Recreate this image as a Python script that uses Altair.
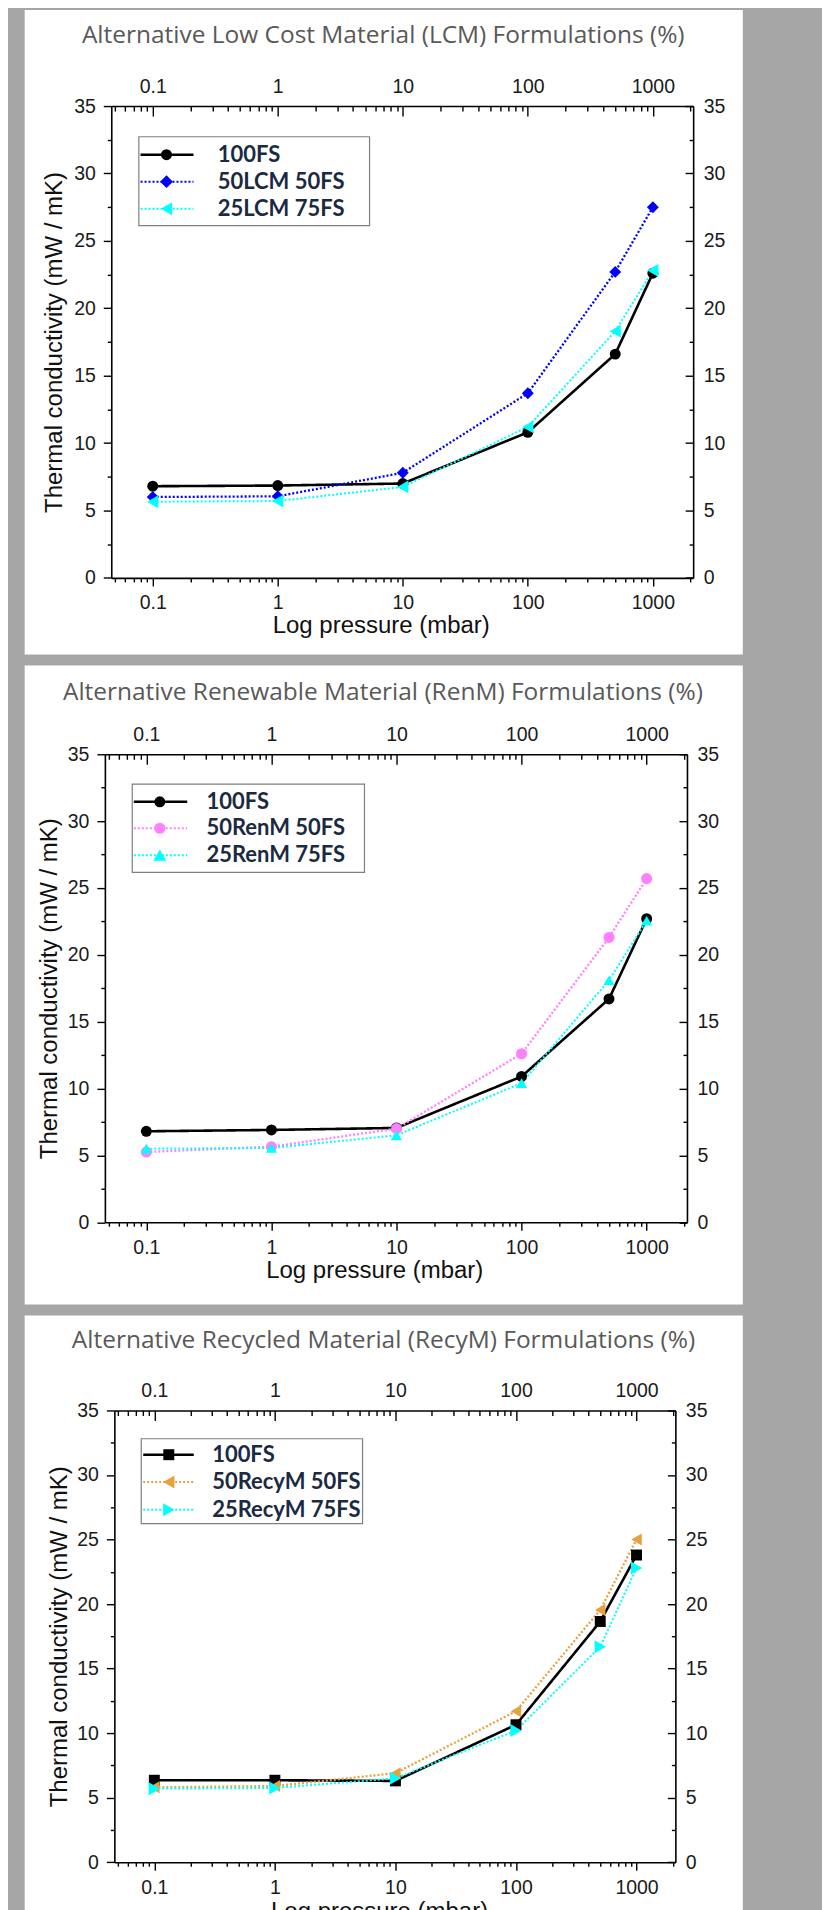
import altair as alt
import pandas as pd

# ---------------- data ----------------
PRESSURE = [0.1, 1, 10, 100, 500, 1000]

LCM_SERIES = ["100FS", "50LCM 50FS", "25LCM 75FS"]
LCM_100FS = [6.8, 6.85, 7.0, 10.8, 16.6, 22.6]
LCM_50 = [6.0, 6.05, 7.8, 13.7, 22.7, 27.5]
LCM_25 = [5.65, 5.7, 6.75, 11.2, 18.3, 22.8]

REN_SERIES = ["100FS", "50RenM 50FS", "25RenM 75FS"]
REN_100FS = [6.8, 6.9, 7.05, 10.9, 16.7, 22.7]
REN_50 = [5.25, 5.65, 7.0, 12.6, 21.3, 25.7]
REN_25 = [5.5, 5.55, 6.5, 10.4, 18.1, 22.55]

RECY_SERIES = ["100FS", "50RecyM 50FS", "25RecyM 75FS"]
RECY_100FS = [6.35, 6.35, 6.3, 10.65, 18.65, 23.8]
RECY_50 = [5.8, 5.9, 6.9, 11.7, 19.55, 25.0]
RECY_25 = [5.7, 5.75, 6.5, 10.2, 16.7, 22.8]

TITLES = [
    "Alternative Low Cost Material (LCM) Formulations (%)",
    "Alternative Renewable Material (RenM) Formulations (%)",
    "Alternative Recycled Material (RecyM) Formulations (%)",
]
X_TITLE = "Log pressure (mbar)"
Y_TITLE = "Thermal conductivity (mW / mK)"

X_MAJOR = [0.1, 1, 10, 100, 1000]
X_MINOR = [0.05, 0.06, 0.07, 0.08, 0.09,
           0.2, 0.3, 0.4, 0.5, 0.6, 0.7, 0.8, 0.9,
           2, 3, 4, 5, 6, 7, 8, 9,
           20, 30, 40, 50, 60, 70, 80, 90,
           200, 300, 400, 500, 600, 700, 800, 900, 2000]
Y_MAJOR = [0, 5, 10, 15, 20, 25, 30, 35]
Y_ALL = [0, 2.5, 5, 7.5, 10, 12.5, 15, 17.5, 20, 22.5, 25, 27.5, 30, 32.5, 35]
X_DOMAIN = [0.0466, 2100]

# ---------------- styles ----------------
BG = "#a6a6a6"
AX_FONT = "Liberation Sans"
LBL_COLOR = "#1a1a1a"
LEG_COLOR = "#1b2a41"
XTEST = "indexof([0.1, 1, 10, 100, 1000], datum.value) >= 0"
YTEST = "datum.value % 5 === 0"
COMMON_LEFT = 104.3   # page x of the left-most plot area


def cond(test, major, minor):
    return {"condition": {"test": test, "value": major}, "value": minor}


ONE = pd.DataFrame({"k": [0]})


def panel(series, values, colors, dashes, widths, shapes, msizes, title, L):
    W, H = L["W"], L["H"]
    s = L["left"] - COMMON_LEFT          # horizontal shift of this panel's plot
    rows = []
    for name, vals in zip(series, values):
        for p, v in zip(PRESSURE, vals):
            rows.append({"series": name, "pressure": p, "k": v})
    df = pd.DataFrame(rows)

    xs = alt.Scale(type="log", domain=X_DOMAIN, nice=False, range=[s, s + W])
    ys = alt.Scale(domain=[0, 35], nice=False, zero=False)
    cs = alt.Scale(domain=series, range=colors)

    common = dict(grid=False, zindex=1, tickColor="black", tickWidth=1.4,
                  domainColor="black", domainWidth=1.6,
                  labelFont=AX_FONT, labelFontSize=19.5, labelColor=LBL_COLOR,
                  labelOverlap=False, labelFlush=False)

    ax_bottom = alt.Axis(orient="bottom", values=X_MAJOR + X_MINOR,
                         labelExpr=f"{XTEST} ? format(datum.value, '~g') : ''",
                         tickSize=cond(XTEST, 8, 4), labelPadding=8,
                         title=X_TITLE, titleFont=AX_FONT, titleFontSize=24,
                         titleFontWeight="normal", titleColor="#111111",
                         titleX=s + L["xtx"], titleY=L["xty"], titleAlign="center",
                         titleBaseline="alphabetic", **common)
    ax_top = alt.Axis(orient="top", values=X_MAJOR, ticks=False, tickSize=0,
                      labelExpr="format(datum.value, '~g')", labelPadding=10,
                      title=None, **common)
    ax_top_ticks = alt.Axis(orient="bottom", offset=-H, values=X_MAJOR + X_MINOR,
                            labels=False, domain=False, tickSize=cond(XTEST, 10, 5),
                            title=None, **common)
    ay_left = alt.Axis(orient="left", offset=-s, values=Y_ALL,
                       labelExpr=f"{YTEST} ? format(datum.value, 'd') : ''",
                       tickSize=cond(YTEST, 8, 4), labelPadding=8,
                       title=Y_TITLE, titleFont=AX_FONT, titleFontSize=24,
                       titleFontWeight="normal", titleColor="#111111",
                       titleX=L["ytx"], titleY=H / 2, titleAlign="center",
                       titleAngle=270, titleBaseline="alphabetic", **common)
    ay_right = alt.Axis(orient="right", values=Y_MAJOR, ticks=False, tickSize=0,
                        labelExpr="format(datum.value, 'd')", labelPadding=10,
                        title=None, **common)
    ay_right_ticks = alt.Axis(orient="left", offset=-(s + W), values=Y_ALL,
                              labels=False, domain=False, tickSize=cond(YTEST, 8, 4),
                              title=None, **common)

    card = alt.Chart(ONE).mark_rect(color="white").encode(
        x=alt.value(s + L["cx1"]), x2=alt.value(s + L["cx2"]),
        y=alt.value(L["cy1"]), y2=alt.value(L["cy2"]))

    lines = alt.Chart(df).mark_line().encode(
        x=alt.X("pressure:Q", scale=xs, axis=ax_bottom),
        y=alt.Y("k:Q", scale=ys, axis=ay_left),
        color=alt.Color("series:N", scale=cs, legend=None),
        strokeDash=alt.StrokeDash("series:N", scale=alt.Scale(domain=series, range=dashes), legend=None),
        strokeWidth=alt.StrokeWidth("series:N", scale=alt.Scale(domain=series, range=widths), legend=None),
    )
    pts = alt.Chart(df).mark_point(filled=True, opacity=1).encode(
        x=alt.X("pressure:Q", scale=xs, axis=ax_top),
        y=alt.Y("k:Q", scale=ys, axis=ay_right),
        color=alt.Color("series:N", scale=cs, legend=None),
        shape=alt.Shape("series:N", scale=alt.Scale(domain=series, range=shapes), legend=None),
        size=alt.Size("series:N", scale=alt.Scale(domain=series, range=msizes), legend=None),
    )
    tk = alt.Chart(df).mark_point(opacity=0).encode(
        x=alt.X("pressure:Q", scale=xs, axis=ax_top_ticks),
        y=alt.Y("k:Q", scale=ys, axis=ay_right_ticks),
    )

    bx, by = s + L["bx"], L["by"]
    leg = [alt.Chart(ONE).mark_rect(fill="white", stroke="#7f7f7f", strokeWidth=1.2).encode(
        x=alt.value(bx), x2=alt.value(bx + L["bw"]), y=alt.value(by), y2=alt.value(by + L["bh"]))]
    for i, name in enumerate(series):
        ry = by + L["rows"][i]
        rule_kw = dict(color=colors[i], strokeWidth=widths[i])
        if dashes[i] != [1, 0]:
            rule_kw["strokeDash"] = dashes[i]
        leg.append(alt.Chart(ONE).mark_rule(**rule_kw).encode(
            x=alt.value(bx + L["l1"]), x2=alt.value(bx + L["l2"]), y=alt.value(ry)))
        leg.append(alt.Chart(ONE).mark_point(filled=True, opacity=1, size=msizes[i],
                                             shape=shapes[i], color=colors[i]).encode(
            x=alt.value(bx + L["mk"]), y=alt.value(ry)))
        leg.append(alt.Chart(ONE).mark_text(align="left", baseline="middle", font="Lato",
                                            fontSize=22, fontWeight="bold", color=LEG_COLOR).encode(
            x=alt.value(bx + L["tx"]), y=alt.value(ry), text=alt.value(name)))

    ttl = alt.Chart(ONE).mark_text(align="center", baseline="middle", font="Open Sans",
                                   fontSize=24.5, color="#595959").encode(
        x=alt.value(s + L["ttx"]), y=alt.value(L["tty"]), text=alt.value(title))

    return alt.layer(card, lines, pts, tk, *leg, ttl).resolve_axis(
        x="independent", y="independent").properties(width=s + W, height=H)


SOLID = [1, 0]
DOT = [2, 2]

L1 = dict(left=110.7, W=582.6, H=472.4, cx1=-86.7, cx2=632.3, cy1=-96.3, cy2=549,
          ttx=272.3, tty=-70.5, bx=27.6, by=30.7, bw=231, bh=89, rows=[18, 45, 72],
          l1=1.7, l2=54.7, mk=27.7, tx=79, xtx=269.8, xty=54.8, ytx=-49.7)
L2 = dict(left=104.3, W=582.8, H=468.5, cx1=-80.3, cx2=638.7, cy1=-89, cy2=551,
          ttx=278.4, tty=-61, bx=27.4, by=29.9, bw=232.5, bh=88.4, rows=[17.7, 44.2, 71.1],
          l1=1.6, l2=55, mk=27.6, tx=74.3, xtx=269.7, xty=55, ytx=-48.3)
L3 = dict(left=113.8, W=561.7, H=452.3, cx1=-89.8, cx2=629.2, cy1=-95, cy2=530,
          ttx=269.5, tty=-69.3, bx=26.9, by=28.3, bw=221.6, bh=85, rows=[16, 43.3, 71],
          l1=2, l2=52.6, mk=27.6, tx=71, xtx=265, xty=56, ytx=-48.4)

p1 = panel(LCM_SERIES, [LCM_100FS, LCM_50, LCM_25],
           ["#000000", "#0000ff", "#00ffff"], [SOLID, DOT, DOT], [2.6, 2, 2],
           ["circle", "diamond", "triangle-left"], [120, 165, 170], TITLES[0], L1)
p2 = panel(REN_SERIES, [REN_100FS, REN_50, REN_25],
           ["#000000", "#ff80ff", "#00ffff"], [SOLID, DOT, DOT], [2.6, 2, 2],
           ["circle", "circle", "triangle-up"], [120, 125, 170], TITLES[1], L2)
p3 = panel(RECY_SERIES, [RECY_100FS, RECY_50, RECY_25],
           ["#000000", "#e6a23c", "#00ffff"], [SOLID, DOT, DOT], [2.6, 2, 2],
           ["square", "triangle-left", "triangle-right"], [120, 170, 170], TITLES[2], L3)

chart = alt.vconcat(p1, p2, p3, spacing=11).resolve_scale(
    color="independent", shape="independent", size="independent",
    strokeDash="independent", strokeWidth="independent",
).properties(
    background=BG,
    padding={"left": 16, "top": 0, "right": 79, "bottom": 0},
).configure_view(stroke=None)

chart.save("out.html", embed_options={"renderer": "svg", "actions": False})
